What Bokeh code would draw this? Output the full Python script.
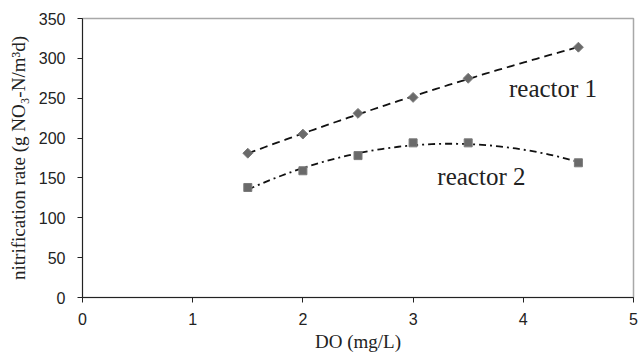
import numpy as np
from bokeh.plotting import figure
from bokeh.models import Range1d, FixedTicker, Label
from bokeh.embed import file_html
from bokeh.resources import INLINE

# ---- data ----
do_values = [1.5, 2.0, 2.5, 3.0, 3.5, 4.5]
reactor1 = [181, 205, 231, 251, 275, 314]
reactor2 = [138, 159, 178, 194, 194, 169]
x_ticks = [0, 1, 2, 3, 4, 5]
y_ticks = [0, 50, 100, 150, 200, 250, 300, 350]
series_names = ["reactor 1", "reactor 2"]

p = figure(width=640, height=355, output_backend="svg", toolbar_location=None,
           x_range=Range1d(0, 5), y_range=Range1d(0, 350),
           min_border_left=82, min_border_right=7, min_border_top=18, min_border_bottom=58)
p.background_fill_color = "white"
p.border_fill_color = "white"
p.outline_line_color = "#a8a8a8"
p.outline_line_width = 1.5
p.xgrid.visible = False
p.ygrid.visible = False

for ax, ticks in ((p.xaxis[0], x_ticks), (p.yaxis[0], y_ticks)):
    ax.ticker = FixedTicker(ticks=ticks)
    ax.minor_tick_line_color = None
    ax.major_tick_in = 0
    ax.major_tick_out = 5
    ax.axis_line_color = "#222222"
    ax.major_tick_line_color = "#222222"
    ax.major_label_text_font = "Liberation Sans"
    ax.major_label_text_font_size = "16px"
    ax.major_label_text_color = "#222222"
    ax.axis_label_text_font = "Liberation Serif"
    ax.axis_label_text_font_style = "normal"
    ax.axis_label_text_color = "#222222"
    ax.axis_label_text_font_size = "19px"

p.xaxis.axis_label = "DO (mg/L)"
p.xaxis.major_label_standoff = 10
p.xaxis.axis_label_standoff = 3

p.yaxis.axis_label = "nitrification rate (g NO\u2083-N/m\u00b3d)"
p.yaxis.major_label_standoff = 12
p.yaxis.axis_label_standoff = 7

# trendlines (quadratic fits of the data)
xs_fit = np.linspace(min(do_values), max(do_values), 80)
fit1 = np.polyval(np.polyfit(do_values, reactor1, 2), xs_fit)
fit2 = np.polyval(np.polyfit(do_values, reactor2, 2), xs_fit)

p.line(xs_fit, fit1, line_color="#111111", line_width=1.8, line_dash="8 5")
p.line(xs_fit, fit2, line_color="#111111", line_width=1.8, line_dash="7 4 2 4")

p.scatter(do_values, reactor1, marker="square", angle=np.pi / 4, size=7, fill_color="#6a6a6a",
          line_color="#7a7a7a", line_width=1)
p.scatter(do_values, reactor2, marker="square", size=8, fill_color="#6a6a6a",
          line_color="#7a7a7a", line_width=1)

p.add_layout(Label(x=3.87, y=262, text=series_names[0], text_font="Liberation Serif",
                   text_font_size="25px", text_color="#222222", text_baseline="alphabetic"))
p.add_layout(Label(x=3.22, y=152, text=series_names[1], text_font="Liberation Serif",
                   text_font_size="25px", text_color="#222222", text_baseline="alphabetic"))

open("out.html", "w").write(file_html(p, INLINE))
